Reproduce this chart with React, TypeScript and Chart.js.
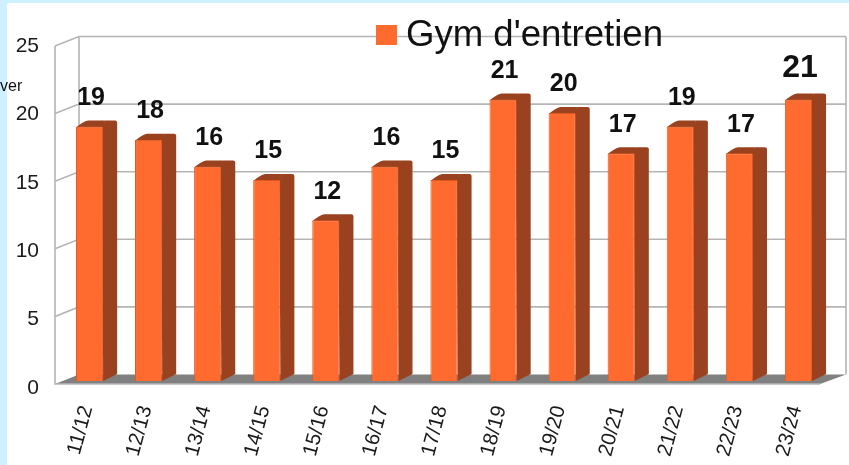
import React, { useEffect, useRef } from "react";
import { Chart, registerables } from "chart.js";

Chart.register(...registerables);

const seasons = ["11/12", "12/13", "13/14", "14/15", "15/16", "16/17", "17/18", "18/19", "19/20", "20/21", "21/22", "22/23", "23/24"];
const gymValues = [19, 18, 16, 15, 12, 16, 15, 21, 20, 17, 19, 17, 21];
const seriesName = "Gym d'entretien";
const clippedNote = "ver";

const SANS = "'Liberation Sans', Arial, sans-serif";
const FRONT = "#FF6B2E";
const EDGE = "#E2581F";
const SIDE = "#9A421F";
const GRID = "#B5B5B5";
const FLOOR = "#808080";
const PAGE = "#CDF1FF";

const scene3d = {
  id: "scene3d",
  beforeDraw(chart: any) {
    const { ctx, width, height } = chart;
    ctx.save();
    ctx.fillStyle = PAGE;
    ctx.fillRect(0, 0, width, height);
    ctx.fillStyle = "#FFFFFF";
    ctx.beginPath();
    ctx.roundRect(7, 3, width, height, 3);
    ctx.fill();
    ctx.restore();
  },
  beforeDatasetsDraw(chart: any) {
    const { ctx, scales } = chart;
    const y = scales.yWalls;
    const frontL = 55, frontR = 820, backL = 79, backR = 846, dy = -9.5;
    const y0 = y.getPixelForValue(0);
    const yTop = y.getPixelForValue(25);
    ctx.save();
    ctx.fillStyle = FLOOR;
    ctx.beginPath();
    ctx.moveTo(frontL, y0);
    ctx.lineTo(backL, y0 + dy);
    ctx.lineTo(backR, y0 + dy);
    ctx.lineTo(frontR, y0);
    ctx.closePath();
    ctx.fill();
    ctx.strokeStyle = GRID;
    ctx.lineWidth = 1.6;
    ctx.beginPath();
    ctx.moveTo(frontL, yTop);
    ctx.lineTo(frontL, y0);
    ctx.lineTo(frontR, y0);
    ctx.moveTo(backL, yTop + dy);
    ctx.lineTo(backL, y0 + dy);
    ctx.moveTo(backR, yTop + dy);
    ctx.lineTo(backR, y0 + dy);
    for (const t of scales.y.ticks) {
      const p = y.getPixelForValue(t.value);
      if (t.value !== 0) {
        ctx.moveTo(frontL, p);
        ctx.lineTo(backL, p + dy);
        ctx.lineTo(backR, p + dy);
      }
    }
    ctx.stroke();

    // depth faces of the bars, taken from the bar elements
    const dx = 14, d = -6;
    const meta = chart.getDatasetMeta(0);
    for (const bar of meta.data) {
      const { x, y: top, base, width: w } = bar.getProps(["x", "y", "base", "width"], true);
      const l = x - w / 2, r = x + w / 2;
      ctx.fillStyle = SIDE;
      ctx.beginPath();
      ctx.moveTo(r - 1, top);
      ctx.lineTo(r + 2, top + d);
      ctx.lineTo(r + dx - 2, top + d);
      ctx.quadraticCurveTo(r + dx, top + d, r + dx, top + d + 2);
      ctx.lineTo(r + dx, base + d - 1);
      ctx.lineTo(r, base);
      ctx.closePath();
      ctx.fill();
      ctx.beginPath();
      ctx.moveTo(l, top + 1);
      ctx.quadraticCurveTo(l + 7, top + d + 1, l + 12, top + d);
      ctx.lineTo(r + 2, top + d);
      ctx.lineTo(r, top + 1);
      ctx.closePath();
      ctx.fill();
    }
    ctx.restore();
  },
  afterDatasetsDraw(chart: any) {
    const { ctx } = chart;
    const meta = chart.getDatasetMeta(0);
    const values = chart.data.datasets[0].data;
    ctx.save();
    ctx.textAlign = "center";
    ctx.textBaseline = "middle";
    ctx.fillStyle = "#111111";
    meta.data.forEach((bar: any, i: number) => {
      const last = i === meta.data.length - 1;
      ctx.font = `bold ${last ? 32 : 25}px ${SANS}`;
      ctx.fillText(String(values[i]), bar.x + 1.5, bar.y - (last ? 31 : 28.5));
    });

    // legend
    const label = chart.data.datasets[0].label;
    ctx.fillStyle = FRONT;
    ctx.fillRect(376, 25, 21, 20);
    ctx.fillStyle = "#111111";
    ctx.textAlign = "left";
    ctx.font = `36.6px ${SANS}`;
    ctx.fillText(label, 406, 36);

    // clipped text at the left edge
    ctx.font = `16px ${SANS}`;
    ctx.fillText(clippedNote, 0, 87);
    ctx.restore();
  },
};

export default function App() {
  const ref = useRef<HTMLCanvasElement | null>(null);
  useEffect(() => {
    document.body.style.margin = "0";
    const chart = new Chart(ref.current as HTMLCanvasElement, {
      type: "bar",
      data: {
        labels: seasons,
        datasets: [
          {
            label: seriesName,
            data: gymValues,
            yAxisID: "yBars",
            backgroundColor: FRONT,
            borderColor: EDGE,
            borderWidth: 1,
            borderRadius: 1,
            barPercentage: 0.46,
            categoryPercentage: 1,
          },
        ],
      },
      options: {
        responsive: false,
        animation: false,
        layout: { padding: { top: 46, right: 21, left: 0, bottom: 0 } },
        plugins: { legend: { display: false }, tooltip: { enabled: false } },
        scales: {
          x: {
            grid: { display: false },
            border: { display: false },
            afterFit: (s: any) => { s.height = 77; },
            ticks: {
              autoSkip: false,
              minRotation: 75,
              maxRotation: 75,
              padding: 7,
              labelOffset: -2.5,
              color: "#1A1A1A",
              font: { family: SANS, size: 20.5 },
            },
          },
          y: {
            min: 0,
            max: 25,
            grid: { display: false, drawTicks: false },
            border: { display: false },
            afterFit: (s: any) => { s.width = 60; },
            ticks: {
              stepSize: 5,
              padding: 21,
              color: "#1A1A1A",
              font: { family: SANS, size: 21 },
            },
          },
          yWalls: { display: false, min: -0.296, max: 25 },
          yBars: { display: false, min: -0.522, max: 25 },
        },
      },
      plugins: [scene3d],
    } as any);
    return () => chart.destroy();
  }, []);
  return (
    <div style={{ width: 849, height: 465, overflow: "hidden" }}>
      <canvas ref={ref} width={849} height={465} style={{ display: "block", filter: "blur(0.45px)" }} />
    </div>
  );
}
